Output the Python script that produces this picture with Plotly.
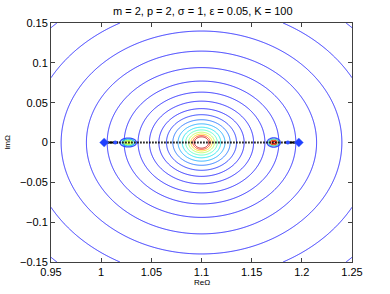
import numpy as np
import plotly.graph_objects as go

# ---- data ----
title_text = "m = 2, p = 2, σ = 1, ε = 0.05, K = 100"
x_label = "ReΩ"
y_label = "ImΩ"
x_ticks = [0.95, 1.0, 1.05, 1.1, 1.15, 1.2, 1.25]
x_ticklabels = ["0.95", "1", "1.05", "1.1", "1.15", "1.2", "1.25"]
y_ticks = [-0.15, -0.1, -0.05, 0.0, 0.05, 0.1, 0.15]
y_ticklabels = ["\u22120.15", "\u22120.1", "\u22120.05", "0", "0.05", "0.1", "0.15"]

ring_center = [1.1, 0.0]
# radii of the contour rings, outermost -> innermost
ring_radii = [0.208, 0.1706, 0.1399, 0.1147, 0.0940, 0.0771, 0.0632, 0.0519, 0.0425,
              0.0349, 0.0286, 0.0234, 0.0192, 0.0158, 0.0129, 0.0106, 0.0087, 0.0071]
ring_colors = ["#0000ff"] * 9 + ["#0018ff", "#0060ff", "#00a0ff", "#00e0f0", "#40ffc0",
                                  "#b0ff50", "#ffd800", "#ff3000", "#c00000"]

# small local features on the real axis
blob_x = [1.027, 1.172]
blob_halfwidth = [0.0082, 0.0066]
blob_halfheight = [0.0056, 0.0058]
blob_colors = [["#2040ff", "#00b0ff", "#40ff90", "#d0ff30"],
               ["#2040ff", "#00e0ff", "#ffc000", "#e00000"]]

end_x = [1.003, 1.197]          # diamond markers
side_x = [1.014, 1.186]         # small blue dots
spectrum_x = [1.003, 1.197]     # dotted spectrum segment
dense_left = [1.002, 1.017]     # solid (dense) parts near ends
dense_right = [1.183, 1.198]

# ---- figure ----
fig = go.Figure()

N = len(ring_radii)
gx = np.linspace(0.95, 1.25, 481)
gy = np.linspace(-0.15, 0.15, 481)
X, Y = np.meshgrid(gx, gy)
R = np.hypot(X - ring_center[0], Y - ring_center[1])
lr = np.log(ring_radii[::-1])
idx = np.arange(N)[::-1].astype(float)
step = (lr[-1] - lr[0]) / (N - 1)
xp = np.concatenate([[lr[0] - 5 * step], lr, [lr[-1] + 5 * step]])
fp = np.concatenate([[idx[0] + 5], idx, [idx[-1] - 5]])
Z = np.interp(np.log(np.maximum(R, 1e-9)), xp, fp).astype(np.float32)

cs = [[i / (N - 1), c] for i, c in enumerate(ring_colors)]
fig.add_trace(go.Contour(
    x=gx, y=gy, z=Z, autocontour=False,
    contours=dict(start=0, end=N - 1, size=1, coloring="lines", showlabels=False),
    colorscale=cs, zmin=0, zmax=N - 1, showscale=False,
    line=dict(width=0.8), hoverinfo="skip"))

fig.add_trace(go.Scatter(x=spectrum_x, y=[0, 0], mode="lines",
                         line=dict(color="black", width=2, dash="1.5px,1.5px"),
                         hoverinfo="skip", showlegend=False))
for seg in (dense_left, dense_right):
    fig.add_trace(go.Scatter(x=seg, y=[0, 0], mode="lines",
                             line=dict(color="black", width=2),
                             hoverinfo="skip", showlegend=False))

for bx, hw, hh, cols in zip(blob_x, blob_halfwidth, blob_halfheight, blob_colors):
    lx = np.linspace(bx - 1.6 * hw, bx + 1.6 * hw, 61)
    ly = np.linspace(-1.6 * hh, 1.6 * hh, 61)
    LX, LY = np.meshgrid(lx, ly)
    LZ = np.hypot((LX - bx) / hw, LY / hh)
    n = len(cols)
    levels = [1.0 - k / n for k in range(n)]  # outer -> inner
    bcs = sorted([[0.0, cols[-1]]] + [[levels[k], cols[k]] for k in range(n)],
                 key=lambda p: p[0])
    fig.add_trace(go.Contour(
        x=lx, y=ly, z=LZ, autocontour=False,
        contours=dict(start=levels[-1], end=1.0, size=1.0 / n, coloring="lines"),
        colorscale=bcs, zmin=0, zmax=1.0, showscale=False,
        line=dict(width=1.3), hoverinfo="skip", opacity=0.9))

fig.add_trace(go.Scatter(x=side_x, y=[0, 0], mode="markers",
                         marker=dict(symbol="circle", size=4, color="#3050ff"),
                         hoverinfo="skip", showlegend=False))
fig.add_trace(go.Scatter(x=end_x, y=[0, 0], mode="markers",
                         marker=dict(symbol="diamond", size=7, color="#2040ff",
                                     line=dict(color="#6080ff", width=0.5)),
                         hoverinfo="skip", showlegend=False))

font = "Liberation Sans, Arial, sans-serif"
axis_common = dict(showgrid=False, zeroline=False, showline=True, linecolor="#404040",
                   linewidth=1, mirror="ticks", ticks="inside", ticklen=4,
                   tickcolor="#404040", automargin=False,
                   tickfont=dict(family=font, size=11, color="black"))
fig.update_layout(
    width=390, height=294,
    margin=dict(l=51, r=38, t=23, b=32),
    paper_bgcolor="white", plot_bgcolor="white",
    showlegend=False,
    title=dict(text=title_text, x=0.52, xanchor="center", y=1 - 11 / 294, yanchor="middle",
               yref="container", font=dict(family=font, size=11, color="black")),
    xaxis=dict(range=[0.95, 1.25], tickvals=x_ticks, ticktext=x_ticklabels, **axis_common),
    yaxis=dict(range=[-0.15, 0.15], tickvals=y_ticks, ticktext=y_ticklabels, **axis_common),
    annotations=[
        dict(text=x_label, xref="paper", yref="paper", x=0.5, y=-0.085, yanchor="middle",
             showarrow=False, font=dict(family=font, size=8, color="black")),
        dict(text=y_label, xref="paper", yref="paper", x=-0.145, y=0.5, textangle=-90,
             xanchor="center", showarrow=False, font=dict(family=font, size=8, color="black")),
    ],
)

fig.write_html("out.html", config={"displayModeBar": False},
               post_script="document.body.style.margin='0';document.body.style.padding='0';")
